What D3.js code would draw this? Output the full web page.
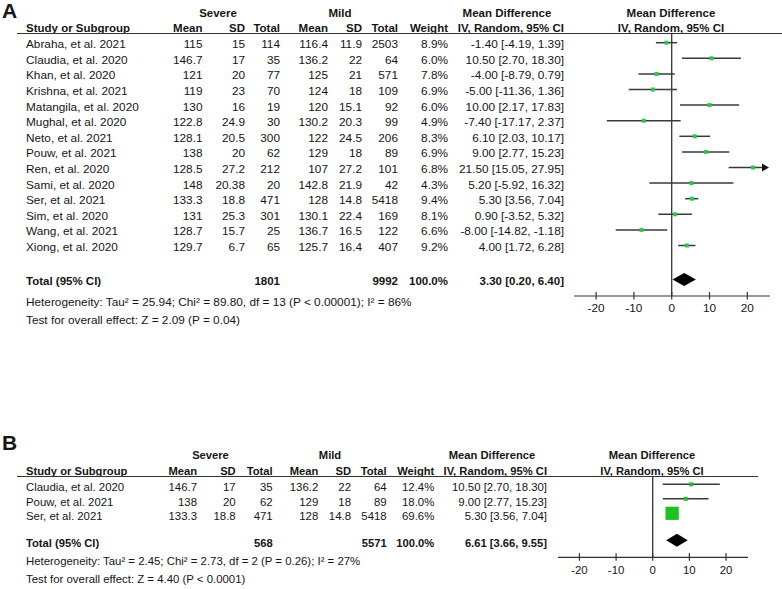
<!DOCTYPE html>
<html><head><meta charset="utf-8">
<script src="https://cdn.jsdelivr.net/npm/d3@7"></script>
<style>
body{margin:0;background:#fff;}
svg{display:block;font-family:"Liberation Sans",Arial,sans-serif;}
</style>
</head><body>
<svg id="chart" width="782" height="589"></svg>
<script>
// ---------- Panel A data ----------
const studiesA = ["Abraha, et al. 2021","Claudia, et al. 2020","Khan, et al. 2020","Krishna, et al. 2021","Matangila, et al. 2020","Mughal, et al. 2020","Neto, et al. 2021","Pouw, et al. 2021","Ren, et al. 2020","Sami, et al. 2020","Ser, et al. 2021","Sim, et al. 2020","Wang, et al. 2021","Xiong, et al. 2020"];
const severeMeanA = [115,146.7,121,119,130,122.8,128.1,138,128.5,148,133.3,131,128.7,129.7];
const severeSDA   = [15,17,20,23,16,24.9,20.5,20,27.2,20.38,18.8,25.3,15.7,6.7];
const severeNA    = [114,35,77,70,19,30,300,62,212,20,471,301,25,65];
const mildMeanA   = [116.4,136.2,125,124,120,130.2,122,129,107,142.8,128,130.1,136.7,125.7];
const mildSDA     = [11.9,22,21,18,15.1,20.3,24.5,18,27.2,21.9,14.8,22.4,16.5,16.4];
const mildNA      = [2503,64,571,109,92,99,206,89,101,42,5418,169,122,407];
const weightA     = [8.9,6.0,7.8,6.9,6.0,4.9,8.3,6.9,6.8,4.3,9.4,8.1,6.6,9.2];
const mdA         = [-1.40,10.50,-4.00,-5.00,10.00,-7.40,6.10,9.00,21.50,5.20,5.30,0.90,-8.00,4.00];
const lowA        = [-4.19,2.70,-8.79,-11.36,2.17,-17.17,2.03,2.77,15.05,-5.92,3.56,-3.52,-14.82,1.72];
const highA       = [1.39,18.30,0.79,1.36,17.83,2.37,10.17,15.23,27.95,16.32,7.04,5.32,-1.18,6.28];
const totalsA     = [1801, 9992];          // severe total, mild total
const pooledA     = [3.30, 0.20, 6.40];    // MD, low, high
const hetA  = "Heterogeneity: Tau\u00B2 = 25.94; Chi\u00B2 = 89.80, df = 13 (P < 0.00001); I\u00B2 = 86%";
const testA = "Test for overall effect: Z = 2.09 (P = 0.04)";

// ---------- Panel B data ----------
const studiesB = ["Claudia, et al. 2020","Pouw, et al. 2021","Ser, et al. 2021"];
const severeMeanB = [146.7,138,133.3];
const severeSDB   = [17,20,18.8];
const severeNB    = [35,62,471];
const mildMeanB   = [136.2,129,128];
const mildSDB     = [22,18,14.8];
const mildNB      = [64,89,5418];
const weightB     = [12.4,18.0,69.6];
const mdB         = [10.50,9.00,5.30];
const lowB        = [2.70,2.77,3.56];
const highB       = [18.30,15.23,7.04];
const totalsB     = [568, 5571];
const pooledB     = [6.61, 3.66, 9.55];
const hetB  = "Heterogeneity: Tau\u00B2 = 2.45; Chi\u00B2 = 2.73, df = 2 (P = 0.26); I\u00B2 = 27%";
const testB = "Test for overall effect: Z = 4.40 (P < 0.0001)";

// ---------- axis ticks ----------
const axisTicks = [-20,-10,0,10,20];
const axisDomain = [-25.85, 26];

const svg = d3.select("#chart");
const TXT = "#151515";

function fmtCI(m,l,h){ return m.toFixed(2)+" ["+l.toFixed(2)+", "+h.toFixed(2)+"]"; }

function drawPanel(D, L){
  const g = svg.append("g");
  const fs = L.fs, fb = L.fb;
  const txt = (x,y,s,anchor,bold,size) => g.append("text")
      .attr("x",x).attr("y",y).attr("text-anchor",anchor||"start")
      .attr("font-size", size || (bold?fb:fs)).attr("font-weight", bold?"bold":"normal")
      .attr("fill",TXT).text(s);

  // panel letter
  txt(L.letterX, L.letterY, L.letter, "start", true, 21);

  // headers
  txt(L.severeC, L.groupY, "Severe", "middle", true);
  txt(L.mildC, L.groupY, "Mild", "middle", true);
  txt(L.mdC, L.groupY, "Mean Difference", "middle", true);
  txt(L.plotC, L.groupY, "Mean Difference", "middle", true);
  txt(L.nameX, L.headY, "Study or Subgroup", "start", true);
  const heads = ["Mean","SD","Total","Mean","SD","Total","Weight"];
  heads.forEach((h,i)=>txt(L.cols[i], L.headY, h, "end", true));
  txt(L.cols[7], L.headY, "IV, Random, 95% CI", "end", true);
  txt(L.plotC, L.headY, "IV, Random, 95% CI", "middle", true);

  g.append("line").attr("x1",L.lineX1).attr("x2",L.lineX2)
    .attr("y1",L.lineY).attr("y2",L.lineY).attr("stroke","#333").attr("stroke-width",1.2);

  // row scale
  const y = d3.scalePoint().domain(D.studies).range(L.rowRange);
  const x = d3.scaleLinear().domain(axisDomain).range(L.plotRange);

  // table rows
  const cols = [D.sMean, D.sSD, D.sN, D.mMean, D.mSD, D.mN];
  D.studies.forEach((s,i)=>{
    const ty = y(s) + L.textOff;
    txt(L.nameX, ty, s, "start", false);
    cols.forEach((arr,c)=>txt(L.cols[c], ty, String(arr[i]), "end", false));
    txt(L.cols[6], ty, D.weight[i].toFixed(1)+"%", "end", false);
    txt(L.cols[7], ty, fmtCI(D.md[i], D.low[i], D.high[i]), "end", false);
  });

  // total row
  const tty = L.totalY + L.textOff;
  txt(L.nameX, tty, "Total (95% CI)", "start", true);
  txt(L.cols[2], tty, String(D.totals[0]), "end", true);
  txt(L.cols[5], tty, String(D.totals[1]), "end", true);
  txt(L.cols[6], tty, "100.0%", "end", true);
  txt(L.cols[7], tty, fmtCI(D.pooled[0], D.pooled[1], D.pooled[2]), "end", true);
  txt(L.nameX, L.hetY, D.het, "start", false);
  txt(L.nameX, L.testY, D.test, "start", false);

  // zero line
  g.append("line").attr("x1",x(0)).attr("x2",x(0))
    .attr("y1",L.lineY).attr("y2",L.axisY).attr("stroke","#222").attr("stroke-width",1.2);

  // CI lines & markers
  const xmin = axisDomain[0], xmax = axisDomain[1];
  D.studies.forEach((s,i)=>{
    const cy = y(s);
    const lo = Math.max(D.low[i], xmin), hi = Math.min(D.high[i], xmax);
    const clippedHi = D.high[i] > xmax;
    g.append("line").attr("x1",x(lo)).attr("x2", clippedHi ? x(hi)-5 : x(hi))
      .attr("y1",cy).attr("y2",cy).attr("stroke","#3a3a3a").attr("stroke-width",1.5);
    if (clippedHi){
      const tx = x(hi)-1;
      g.append("path").attr("d",`M${tx},${cy} L${tx-7},${cy-4} L${tx-7},${cy+4} Z`).attr("fill","#111");
    }
    const side = Math.max(L.minSq, D.weight[i]*0.19);
    g.append("rect").attr("x",x(D.md[i])-side/2).attr("y",cy-side/2)
      .attr("width",side).attr("height",side).attr("fill",L.sqColor);
  });

  // pooled diamond
  const dy = L.totalY, hh = 6.5;
  g.append("path").attr("d",
    `M${x(D.pooled[1])},${dy} L${x(D.pooled[0])},${dy-hh} L${x(D.pooled[2])},${dy} L${x(D.pooled[0])},${dy+hh} Z`)
    .attr("fill","#000");

  // axis
  const ax = g.append("g").attr("transform",`translate(0,${L.axisY})`);
  ax.append("line").attr("x1",L.plotRange[0]).attr("x2",L.plotRange[1])
    .attr("y1",0).attr("y2",0).attr("stroke","#333").attr("stroke-width",1.2);
  axisTicks.forEach(t=>{
    ax.append("line").attr("x1",x(t)).attr("x2",x(t)).attr("y1",-4).attr("y2",3.5)
      .attr("stroke","#333").attr("stroke-width",1.2);
    ax.append("text").attr("x",x(t)).attr("y",L.tickLabY).attr("text-anchor","middle")
      .attr("font-size",fs).attr("fill",TXT).text(String(t));
  });
}

drawPanel(
  {studies:studiesA, sMean:severeMeanA, sSD:severeSDA, sN:severeNA, mMean:mildMeanA, mSD:mildSDA, mN:mildNA,
   weight:weightA, md:mdA, low:lowA, high:highA, totals:totalsA, pooled:pooledA, het:hetA, test:testA},
  {letter:"A", letterX:2, letterY:18, fs:11.8, fb:11.5,
   severeC:218, mildC:340, mdC:507, plotC:671, groupY:17, headY:32, lineY:33.5, lineX1:17, lineX2:782,
   nameX:26, cols:[202.5,245,280,328,362,398,448,564],
   rowRange:[42.7,245.5], textOff:5.5, totalY:279.5, hetY:306, testY:324,
   plotRange:[574,770], axisY:296, tickLabY:16, minSq:4, sqColor:"#2cc84a"}
);

drawPanel(
  {studies:studiesB, sMean:severeMeanB, sSD:severeSDB, sN:severeNB, mMean:mildMeanB, mSD:mildSDB, mN:mildNB,
   weight:weightB, md:mdB, low:lowB, high:highB, totals:totalsB, pooled:pooledB, het:hetB, test:testB},
  {letter:"B", letterX:2, letterY:450, fs:11.4, fb:11.2,
   severeC:210.5, mildC:330, mdC:492, plotC:652, groupY:459, headY:475, lineY:476.5, lineX1:17, lineX2:758,
   nameX:26, cols:[197,235.7,272.7,318.3,351,386.7,434.3,547],
   rowRange:[484.3,513.3], textOff:7, totalY:540.3, hetY:565, testY:583,
   plotRange:[558,748], axisY:557.3, tickLabY:16.5, minSq:4, sqColor:"#1fc21f"}
);
</script>
</body></html>
